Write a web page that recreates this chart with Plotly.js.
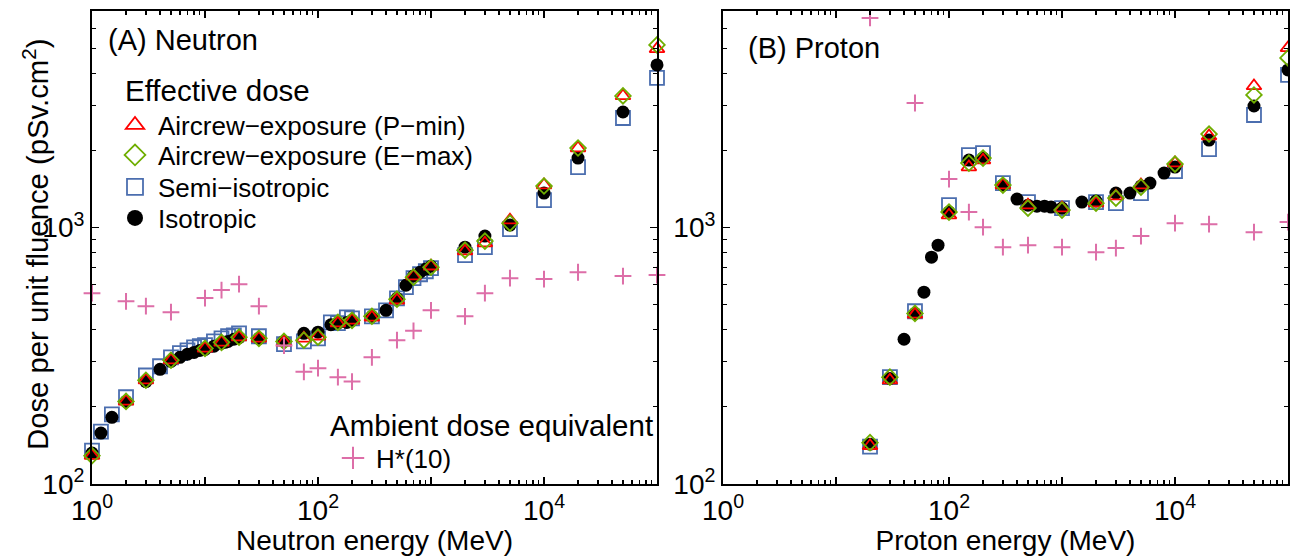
<!DOCTYPE html>
<html><head><meta charset="utf-8">
<script src="https://cdn.plot.ly/plotly-3.0.1.min.js"></script>
<style>html,body{margin:0;padding:0;background:#fff}#chart{width:1290px;height:556px}</style>
</head><body><div id="chart"></div>
<script>
// ---------- (A) Neutron ----------
const nIsoE = [1,1.2,1.5,2,3,4,5,6,7,8,9,10,12,14,15,16,18,20,30,50,75,100,130,150,180,200,300,400,500,600,700,800,900,1000,2000,3000,5000,10000,20000,50000,100000];
const nIsoV = [132,158,182,210,251,280,301,312,321,326,332,335,345,354,357,360,367,372,370,360,387,391,418,424,427,435,451,476,530,596,647,670,689,707,839,927,1023,1364,1868,2826,4313];
const nSemiE = [1,1.2,1.5,2,3,4,5,6,7,8,9,10,12,14,16,18,20,30,50,75,100,130,150,180,200,300,400,500,600,700,800,900,1000,2000,3000,5000,10000,20000,50000,100000];
const nSemiV = [135,160,187,218,265,288,312,324,332,341,345,348,360,370,377,380,387,377,351,360,370,427,424,447,443,451,476,530,586,635,658,676,695,781,839,987,1281,1723,2677,3837];
const nPminE = [1,2,3,5,10,14,20,30,50,75,100,150,200,300,500,700,1000,2000,3000,5000,10000,20000,50000,100000];
const nPminV = [129,210,254,304,338,357,374,370,357,370,377,424,435,447,521,647,707,810,870,1070,1466,2044,3264,4981];
const nEmaxE = [1,2,3,5,10,14,20,30,50,75,100,150,200,300,500,700,1000,2000,3000,5000,10000,20000,50000,100000];
const nEmaxV = [129,210,254,304,338,357,374,370,360,364,374,427,435,451,526,641,701,817,886,1041,1453,2044,3264,5163];
const nH10E = [1,2,3,5,10,14,20,30,50,75,100,150,200,300,500,700,1000,2000,3000,5000,10000,20000,50000,100000];
const nH10V = [555,516,494,468,531,571,602,494,347,274,283,261,251,312,364,396,476,451,555,635,630,670,647,653];

// ---------- (B) Proton ----------
const pIsoE = [20,30,40,50,60,70,80,100,150,200,300,400,500,600,700,800,1000,1500,2000,3000,4000,5000,6000,8000,10000,20000,50000,100000];
const pIsoV = [143,258,367,463,560,767,854,1150,1834,1868,1466,1292,1224,1213,1213,1203,1192,1258,1269,1364,1364,1453,1492,1633,1723,2196,2982,4123];
const pSemiE = [20,30,50,100,150,200,300,500,1000,2000,3000,5000,10000,20000,50000,100000];
const pSemiV = [140,261,472,1224,1919,1954,1492,1258,1192,1258,1246,1364,1662,2026,2751,3942];
const pPminE = [20,30,50,100,150,200,300,500,1000,2000,3000,5000,10000,20000,50000,100000];
const pPminV = [141,254,459,1119,1723,1834,1466,1224,1192,1246,1327,1466,1786,2277,3570,5025];
const pEmaxE = [20,30,50,100,150,200,300,500,1000,2000,3000,5000,10000,20000,50000,100000];
const pEmaxV = [145,261,463,1150,1786,1868,1466,1192,1171,1246,1304,1439,1770,2318,3293,4593];
const pH10E = [20,50,100,150,200,300,500,1000,2000,3000,5000,10000,20000,50000,100000];
const pH10V = [6580,3064,1547,1150,1004,839,854,839,802,832,927,1041,1032,960,1051];

// ---------- tick labels ----------
const xTickVals = [1,10,100,1000,10000,100000];
const xTickText = ['10<sup>0</sup>','','10<sup>2</sup>','','10<sup>4</sup>',''];
const yTickVals = [100,1000];
const yTickText = ['10<sup>2</sup>','10<sup>3</sup>'];

const names = {
  pmin: 'Aircrew\u2212exposure (P\u2212min)',
  emax: 'Aircrew\u2212exposure (E\u2212max)',
  semi: 'Semi\u2212isotropic',
  iso: 'Isotropic',
  h10: 'H*(10)'
};

const FONT = 'Liberation Sans, Arial, sans-serif';
const RED = '#ff0000', GRN = '#6fae00', BLU = '#4b6eaf', BLK = '#000000', PNK = '#dd6ea8';

const mk = {
  semi: {symbol:'square-open', size:14, color:BLU, line:{color:BLU, width:1.8}},
  iso:  {symbol:'circle', size:13, color:BLK, line:{width:0}},
  pmin: {symbol:'triangle-up-open', size:13, color:RED, line:{color:RED, width:1.8}},
  emax: {symbol:'diamond-open', size:12, color:GRN, line:{color:GRN, width:1.8}},
  h10:  {symbol:'cross-thin-open', size:12, color:PNK, line:{color:PNK, width:2}}
};

function tr(x, y, key, xa, ya) {
  return {x:x, y:y, type:'scatter', mode:'markers', marker:mk[key], xaxis:xa, yaxis:ya,
          showlegend:false, cliponaxis:false, hoverinfo:'skip'};
}
function legTr(key, leg) {
  const m = JSON.parse(JSON.stringify(mk[key]));
  m.size = 16;
  return {x:[null], y:[null], type:'scatter', mode:'markers', marker:m, name:names[key],
          legend:leg, showlegend:true, xaxis:'x', yaxis:'y', hoverinfo:'skip'};
}

const data = [
  tr(nSemiE, nSemiV, 'semi', 'x', 'y'),
  tr(nIsoE, nIsoV, 'iso', 'x', 'y'),
  tr(nPminE, nPminV, 'pmin', 'x', 'y'),
  tr(nEmaxE, nEmaxV, 'emax', 'x', 'y'),
  tr(nH10E, nH10V, 'h10', 'x', 'y'),
  tr(pSemiE, pSemiV, 'semi', 'x2', 'y2'),
  tr(pIsoE, pIsoV, 'iso', 'x2', 'y2'),
  tr(pPminE, pPminV, 'pmin', 'x2', 'y2'),
  tr(pEmaxE, pEmaxV, 'emax', 'x2', 'y2'),
  tr(pH10E, pH10V, 'h10', 'x2', 'y2'),
  legTr('pmin', 'legend'),
  legTr('emax', 'legend2'),
  legTr('semi', 'legend3'),
  legTr('iso', 'legend4'),
  legTr('h10', 'legend5')
];

const W = 1290, H = 556, ML = 92, MR = 2, MT = 11, MB = 72;
const PW = W - ML - MR, PH = H - MT - MB;
const px = v => (v - ML) / PW;
const py = v => (H - MB - v) / PH;

function xAxis(title, dom, anchor) {
  return {
    type:'log', range:[0,5], domain:dom, anchor:anchor,
    showline:true, linecolor:'black', linewidth:2, mirror:'ticks',
    ticks:'inside', ticklen:7, tickwidth:1.5, tickcolor:'black',
    tickmode:'array', tickvals:xTickVals, ticktext:xTickText,
    minor:{dtick:'D1', ticks:'inside', ticklen:4, tickwidth:1.2, tickcolor:'black', showgrid:false},
    showgrid:false, zeroline:false,
    tickfont:{family:FONT, size:28, color:'black'},
    title:{text:title, font:{family:FONT, size:28, color:'black'}, standoff:6}
  };
}
function yAxis(anchor) {
  return {
    type:'log', range:[2, Math.log10(7000)], domain:[0,1], anchor:anchor,
    showline:true, linecolor:'black', linewidth:2, mirror:'ticks',
    ticks:'inside', ticklen:7, tickwidth:1.5, tickcolor:'black',
    tickmode:'array', tickvals:yTickVals, ticktext:yTickText,
    minor:{dtick:'D1', ticks:'inside', ticklen:4, tickwidth:1.2, tickcolor:'black', showgrid:false},
    showgrid:false, zeroline:false,
    tickfont:{family:FONT, size:28, color:'black'},
    title:{text:''}
  };
}

function leg(xp, yp) {
  return {x:px(xp), y:py(yp), xanchor:'left', yanchor:'middle', bgcolor:'rgba(0,0,0,0)',
          borderwidth:0, itemwidth:36, font:{family:FONT, size:26, color:'black'}, itemclick:false, itemdoubleclick:false};
}

const layout = {
  width:W, height:H, margin:{l:ML, r:MR, t:MT, b:MB},
  paper_bgcolor:'white', plot_bgcolor:'white',
  font:{family:FONT, color:'black'},
  xaxis: xAxis('Neutron energy (MeV)', [0, px(657)], 'y'),
  yaxis: yAxis('x'),
  xaxis2: xAxis('Proton energy (MeV)', [px(723), 1], 'y2'),
  yaxis2: yAxis('x2'),
  legend: leg(112, 125),
  legend2: leg(112, 155),
  legend3: leg(112, 187),
  legend4: leg(112, 218),
  legend5: leg(330, 458),
  annotations: [
    {text:'Dose per unit fluence (pSv.cm<sup>2</sup>)', xref:'paper', yref:'paper', x:px(35), y:py(245), xanchor:'center', yanchor:'middle', textangle:-90, showarrow:false, font:{family:FONT, size:29.3, color:'black'}},
    {text:'(A) Neutron', xref:'paper', yref:'paper', x:px(106), y:py(40), xanchor:'left', yanchor:'middle', showarrow:false, font:{family:FONT, size:29, color:'black'}},
    {text:'(B) Proton', xref:'paper', yref:'paper', x:px(746), y:py(48), xanchor:'left', yanchor:'middle', showarrow:false, font:{family:FONT, size:29, color:'black'}},
    {text:'Effective dose', xref:'paper', yref:'paper', x:px(123), y:py(90), xanchor:'left', yanchor:'middle', showarrow:false, font:{family:FONT, size:29.5, color:'black'}},
    {text:'Ambient dose equivalent', xref:'paper', yref:'paper', x:px(328), y:py(425), xanchor:'left', yanchor:'middle', showarrow:false, font:{family:FONT, size:29.5, color:'black'}}
  ]
};

Plotly.newPlot('chart', data, layout, {staticPlot:true, displayModeBar:false});
</script></body></html>
